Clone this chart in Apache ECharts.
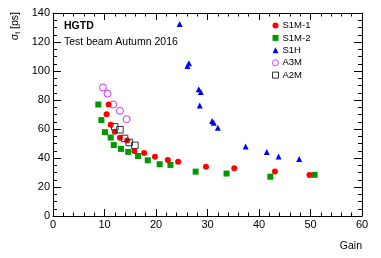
<!DOCTYPE html>
<html>
<head>
<meta charset="utf-8">
<script src="https://cdn.jsdelivr.net/npm/echarts@6/dist/echarts.min.js"></script>
<style>html,body{margin:0;padding:0;background:#fff}#c{width:381px;height:258px}</style>
</head>
<body>
<div id="c"></div>
<script>
// Data
const s1m1Gain = [10.4, 10.8, 11.2, 12.0, 13.0, 14.4, 15.8, 17.7, 19.8, 22.3, 24.3, 29.7, 35.2, 43.1, 49.8];
const s1m1Sigma = [70.2, 76.9, 62.9, 58.1, 53.9, 52.1, 44.8, 43.4, 40.8, 38.7, 37.4, 34.0, 33.0, 30.7, 28.3];
const s1m2Gain = [8.8, 9.4, 10.1, 11.2, 11.8, 13.2, 14.6, 16.5, 18.4, 20.7, 22.8, 27.7, 33.7, 42.2, 50.8];
const s1m2Sigma = [76.9, 66.1, 57.8, 54.1, 48.9, 46.3, 44.2, 41.4, 38.4, 35.7, 35.2, 30.6, 29.3, 27.1, 28.4];
const s1hGain = [24.6, 26.1, 26.4, 28.3, 28.7, 28.5, 30.9, 31.2, 32.0, 37.4, 41.5, 43.8, 47.8];
const s1hSigma = [132.4, 103.5, 105.3, 87.5, 85.6, 76.2, 65.6, 64.3, 60.8, 47.9, 44.1, 41.0, 39.3];
const a3mGain = [9.7, 10.6, 11.7, 13.0, 14.3];
const a3mSigma = [88.6, 84.4, 76.9, 72.5, 66.8];
const a2mGain = [12.0, 13.0, 13.9, 14.8, 15.9];
const a2mSigma = [61.5, 59.5, 53.5, 50.7, 48.7];
const xTicks = [0, 10, 20, 30, 40, 50, 60];
const yTicks = [0, 20, 40, 60, 80, 100, 120, 140];

const zip = (a, b) => a.map((v, i) => [v, b[i]]);
const font = 'Liberation Sans, Arial, sans-serif';
const chart = echarts.init(document.getElementById('c'), null, {renderer: 'canvas'});

const axisCommon = {
  axisLine: {show: true, onZero: false, lineStyle: {color: '#000', width: 1}},
  splitLine: {show: false},
};
const option = {
  animation: false,
  backgroundColor: '#fff',
  grid: {left: 53, right: 19, top: 13, bottom: 42, containLabel: false},
  xAxis: [
    Object.assign({}, axisCommon, {
      type: 'value', min: xTicks[0], max: xTicks[xTicks.length - 1], interval: 10, position: 'bottom',
      axisTick: {inside: true, length: 7, lineStyle: {color: '#000'}},
      minorTick: {show: true, splitNumber: 5, length: 3.5, lineStyle: {color: '#000'}},
      axisLabel: {color: '#000', fontSize: 11, fontFamily: font, margin: 3}
    }),
    Object.assign({}, axisCommon, {
      type: 'value', min: xTicks[0], max: xTicks[xTicks.length - 1], interval: 10, position: 'top',
      axisTick: {inside: true, length: 7, lineStyle: {color: '#000'}},
      minorTick: {show: true, splitNumber: 5, length: 3.5, lineStyle: {color: '#000'}},
      axisLabel: {show: false}
    })
  ],
  yAxis: [
    Object.assign({}, axisCommon, {
      type: 'value', min: yTicks[0], max: yTicks[yTicks.length - 1], interval: 20, position: 'left',
      axisTick: {inside: true, length: 8, lineStyle: {color: '#000'}},
      minorTick: {show: true, splitNumber: 4, length: 4, lineStyle: {color: '#000'}},
      axisLabel: {color: '#000', fontSize: 11, fontFamily: font, margin: 3}
    }),
    Object.assign({}, axisCommon, {
      type: 'value', min: yTicks[0], max: yTicks[yTicks.length - 1], interval: 20, position: 'right',
      axisTick: {inside: true, length: 8, lineStyle: {color: '#000'}},
      minorTick: {show: true, splitNumber: 4, length: 4, lineStyle: {color: '#000'}},
      axisLabel: {show: false}
    })
  ],
  legend: {
    left: 267, top: 15.5, orient: 'vertical', itemWidth: 6, itemHeight: 6, itemGap: 2.4,
    itemStyle: {borderWidth: 1},
    textStyle: {fontSize: 9.5, lineHeight: 10, fontFamily: font, color: '#000', padding: [0, 0, 0, -1]},
    data: ['S1M-1', 'S1M-2', 'S1H', 'A3M', 'A2M']
  },
  series: [
    {name: 'S1M-1', type: 'scatter', data: zip(s1m1Gain, s1m1Sigma), symbol: 'circle', symbolSize: 6, itemStyle: {color: '#ff0000', opacity: 1}, z: 3},
    {name: 'S1M-2', type: 'scatter', data: zip(s1m2Gain, s1m2Sigma), symbol: 'rect', symbolSize: 6, itemStyle: {color: '#009900', opacity: 1}, z: 2},
    {name: 'S1H', type: 'scatter', data: zip(s1hGain, s1hSigma), symbol: 'triangle', symbolSize: 6, itemStyle: {color: '#0000ff', opacity: 1}},
    {name: 'A3M', type: 'scatter', data: zip(a3mGain, a3mSigma), symbol: 'circle', symbolSize: 7, itemStyle: {color: 'rgba(255,255,255,0)', borderColor: '#cc33ff', borderWidth: 1, opacity: 1}},
    {name: 'A2M', type: 'scatter', data: zip(a2mGain, a2mSigma), symbol: 'rect', symbolSize: 6.5, itemStyle: {color: 'rgba(255,255,255,0)', borderColor: '#333', borderWidth: 1, opacity: 1}, z: 4}
  ],
  graphic: [
    {type: 'text', left: 64, top: 21, style: {text: 'HGTD', font: 'bold 10.5px ' + font, fill: '#000'}},
    {type: 'text', left: 64, top: 37, style: {text: 'Test beam Autumn 2016', font: '10.5px ' + font, fill: '#000'}},
    {type: 'text', x: 15, y: 12, rotation: Math.PI / 2,
      style: {text: '{a|σ}{s|t}{a| [ps]}', align: 'right', verticalAlign: 'middle',
        rich: {a: {fontSize: 10.5, fontFamily: font, fill: '#000'}, s: {fontSize: 7, fontFamily: font, fill: '#000', padding: [6, 0, 0, 0]}}}},
    {type: 'text', x: 362, y: 246, style: {text: 'Gain', align: 'right', verticalAlign: 'middle', font: '10.5px ' + font, fill: '#000'}}
  ]
};
chart.setOption(option);
</script>
</body>
</html>
